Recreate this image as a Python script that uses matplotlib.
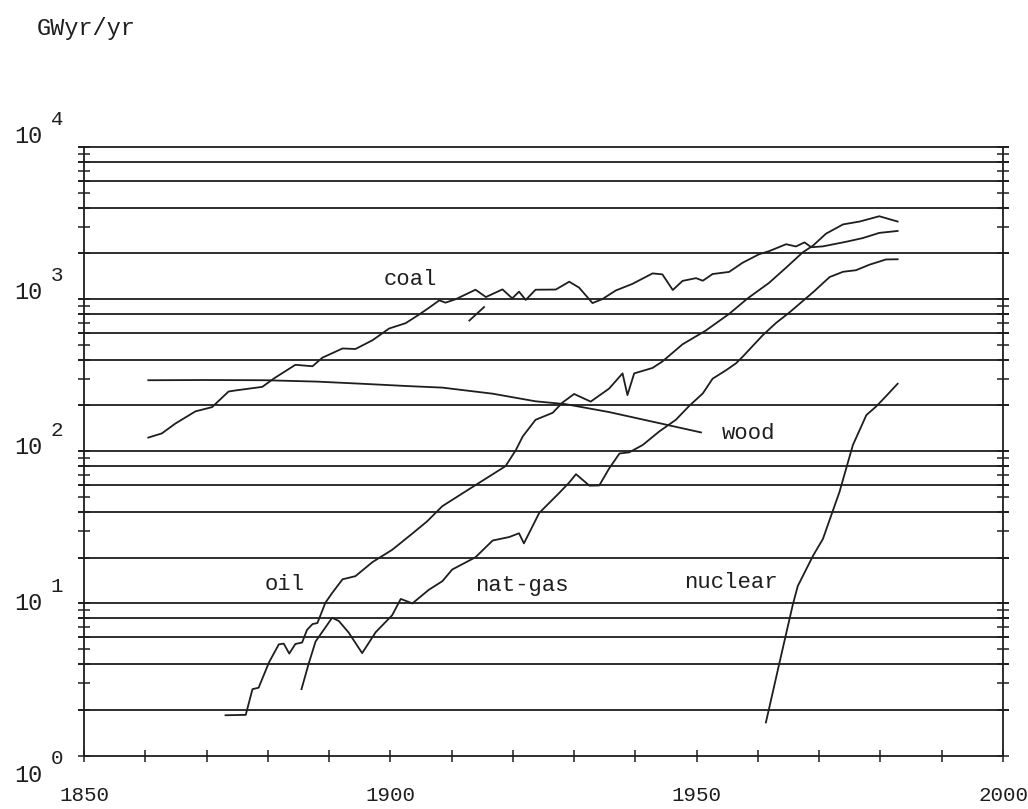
import numpy as np
import matplotlib.pyplot as plt
from matplotlib.ticker import FixedLocator, NullFormatter

# primary energy, GWyr/yr
coal_year = [1860.5, 1862.7, 1864.9, 1868.2, 1870.9, 1873.6, 1874.7, 1879.1, 1881.0, 1884.5,
             1887.3, 1888.9, 1892.2, 1894.3, 1897.1, 1899.8, 1902.5, 1904.7, 1906.3, 1908.0,
             1909.0, 1910.7, 1913.9, 1915.6, 1918.3, 1919.9, 1921.0, 1922.1, 1923.7, 1927.0,
             1929.2, 1930.8, 1933.0, 1934.6, 1936.8, 1939.5, 1942.8, 1944.4, 1946.1, 1947.7,
             1949.9, 1951.0, 1952.6, 1955.3, 1957.5, 1960.2, 1961.8, 1964.6, 1966.2, 1967.6,
             1968.7, 1970.6, 1974.4, 1977.1, 1979.8, 1982.8]
coal = [123, 131, 152, 183, 195, 247, 251, 265, 301, 370,
        362, 412, 474, 470, 537, 641, 695, 792, 877, 982,
        948, 1000, 1153, 1032, 1159, 1012, 1120, 988, 1153, 1156,
        1302, 1191, 942, 1000, 1140, 1259, 1476, 1455, 1148, 1318,
        1374, 1321, 1462, 1510, 1735, 1974, 2066, 2296, 2219, 2361,
        2193, 2222, 2383, 2519, 2725, 2806]

wood_year = [1860.5, 1870, 1879.6, 1888, 1896, 1903, 1908.5, 1916.7, 1923.7, 1928.6,
             1935.7, 1943.9, 1950.7]
wood = [293, 294, 293, 287, 277, 268, 262, 239, 213, 204, 181, 153, 133]

oil_year = [1873.1, 1876.4, 1877.5, 1878.5, 1880.2, 1881.8, 1882.6, 1883.5, 1884.5, 1885.6,
            1886.4, 1887.3, 1888.1, 1889.4, 1890.5, 1892.2, 1894.3, 1897.1, 1900.3, 1903.6,
            1906.0, 1908.5, 1912.9, 1918.8, 1920.5, 1921.6, 1923.7, 1926.5, 1928.1, 1930.0,
            1932.7, 1935.7, 1937.9, 1938.7, 1939.8, 1942.8, 1944.4, 1947.7, 1951.5, 1955.3,
            1958.3, 1961.8, 1964.6, 1967.3, 1969.0, 1971.1, 1973.9, 1976.6, 1979.8, 1982.8]
oil = [1.84, 1.85, 2.73, 2.79, 4.1, 5.38, 5.44, 4.68, 5.41, 5.53,
       6.7, 7.31, 7.43, 10.1, 11.7, 14.4, 15.1, 18.7, 22.5, 28.8,
       34.6, 43.6, 56.5, 79.8, 102, 125, 161, 179, 209, 238,
       212, 258, 325, 234, 325, 353, 389, 505, 622, 800,
       1010, 1278, 1611, 2028, 2250, 2692, 3100, 3236, 3506, 3236]

gas_year = [1885.5, 1886.7, 1887.8, 1890.5, 1891.6, 1893.2, 1895.4, 1897.6, 1900.3, 1901.7,
            1903.6, 1906.3, 1908.5, 1910.1, 1913.9, 1916.7, 1919.4, 1921.0, 1921.8, 1924.3,
            1927.6, 1929.2, 1930.3, 1932.5, 1934.1, 1935.7, 1937.4, 1939.0, 1941.2, 1943.9,
            1946.6, 1948.8, 1951.0, 1952.6, 1954.8, 1956.4, 1957.5, 1960.8, 1963.0, 1965.1,
            1969.0, 1971.7, 1973.9, 1976.0, 1978.2, 1980.9, 1982.8]
gas = [2.73, 4.05, 5.62, 8.04, 7.66, 6.43, 4.71, 6.46, 8.36, 10.7,
       10.0, 12.3, 14.0, 16.7, 20.1, 25.9, 27.3, 28.9, 24.8, 39.3,
       53.4, 62.3, 70.7, 59.4, 59.6, 76.9, 96.7, 98.4, 110, 135,
       161, 199, 240, 300, 341, 378, 418, 580, 700, 815,
       1110, 1397, 1513, 1549, 1684, 1823, 1828]

nuc_year = [1961.3, 1963.5, 1965.7, 1966.5, 1969.0, 1970.6, 1973.3, 1975.5, 1977.7, 1979.3,
            1980.9, 1982.8]
nuclear = [1.65, 4.05, 9.85, 13, 20.6, 26.5, 53.9, 110, 173, 197, 230, 278]

# short stray stroke under the coal curve
stroke_year = [1912.9, 1915.3]
stroke = [723, 887]

labels = ["coal", "wood", "oil", "nat-gas", "nuclear"]
label_year = [1903.3, 1958.5, 1882.7, 1921.4, 1955.6]
label_val = [1349, 131, 13.3, 13.2, 13.8]

ink = '#1e1e1e'
font = ['Liberation Mono', 'DejaVu Sans Mono']

fig = plt.figure(figsize=(10.28, 8.09), dpi=100)
ax = fig.add_axes([0.0817, 0.0661, 0.894, 0.7522])
ax.set_yscale('log')
ax.set_xlim(1850, 2000)
ax.set_ylim(1, 1e4)

# horizontal rules at 2,4,6,8,10 of each decade
rules = [m * 10**k for k in range(4) for m in (2, 4, 6, 8, 10)]
ax.hlines(rules, 1849, 2001, color=ink, lw=1.3, clip_on=False, zorder=1)

for yr, v in [(coal_year, coal), (wood_year, wood), (oil_year, oil),
              (gas_year, gas), (nuc_year, nuclear), (stroke_year, stroke)]:
    ax.plot(yr, v, color=ink, lw=1.3, zorder=2)

for t, yr, v in zip(labels, label_year, label_val):
    ax.text(yr, v, t, ha='center', va='center', fontsize=16, family=font, color=ink)

for s in ['left', 'right', 'bottom']:
    ax.spines[s].set_color(ink)
    ax.spines[s].set_linewidth(1.3)
ax.spines['top'].set_visible(False)

ax.xaxis.set_major_locator(FixedLocator([1850, 1900, 1950, 2000]))
ax.xaxis.set_minor_locator(FixedLocator(range(1850, 2001, 10)))
ax.tick_params(axis='x', which='both', direction='inout', length=8.6, width=1.1,
               color=ink, pad=18)
ax.tick_params(axis='x', which='major', labelsize=15, labelcolor=ink)
for lab in ax.get_xticklabels():
    lab.set_family(font)

ax.yaxis.set_major_locator(FixedLocator([10**k for k in range(5)]))
ax.yaxis.set_minor_locator(FixedLocator([m * 10**k for k in range(4) for m in range(2, 10)]))
ax.yaxis.set_major_formatter(NullFormatter())
ax.yaxis.set_minor_formatter(NullFormatter())
ax.tick_params(axis='y', which='both', direction='inout', length=8.6, width=1.1,
               color=ink, left=True, right=True)

# "10" with raised exponent; the hand-placed labels drift a little per decade
ytrans = ax.get_yaxis_transform()
shift = [-14.4, 0, 2.9, 5, 7.9]
for k in range(5):
    ax.annotate('10', (-0.045, 10**k), xycoords=ytrans, xytext=(0, shift[k]),
                textcoords='offset points', ha='right', va='center',
                fontsize=17, family=font, color=ink)
    ax.annotate(str(k), (-0.036, 10**k), xycoords=ytrans, xytext=(0, shift[k] + 12),
                textcoords='offset points', ha='left', va='center',
                fontsize=15, family=font, color=ink)

fig.text(37 / 1028, 1 - 29 / 809, 'GWyr/yr', ha='left', va='center',
         fontsize=17, family=font, color=ink)

fig.savefig('out.png', dpi=100, facecolor='white')
